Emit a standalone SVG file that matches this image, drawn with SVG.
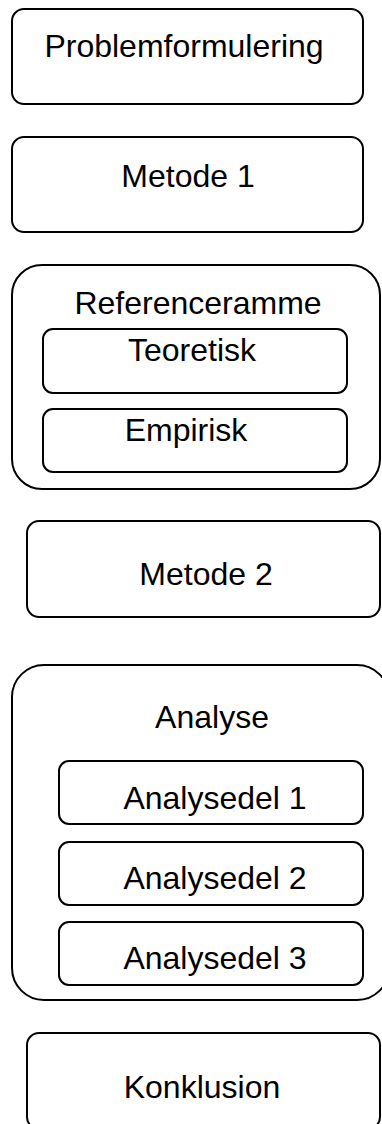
<svg xmlns="http://www.w3.org/2000/svg" width="382" height="1124" viewBox="0 0 382 1124">
<style>
.b{fill:#fff;stroke:#000;stroke-width:2}
.t{font-family:"Liberation Sans",Arial,sans-serif;font-size:32px;fill:#000;text-anchor:middle}
</style>
<rect width="382" height="1124" fill="#fff"/>
<g id="connectors"></g>
<g id="problemformulering"><rect class="b" x="12" y="9" width="351" height="95" rx="12"/><text class="t" x="184" y="57">Problemformulering</text></g>
<g id="metode1"><rect class="b" x="12" y="137" width="351" height="95" rx="12"/><text class="t" x="188" y="187">Metode 1</text></g>
<g id="referenceramme"><rect class="b" x="12" y="265" width="368" height="224" rx="30"/><text class="t" x="198" y="314">Referenceramme</text></g>
<g id="teoretisk"><rect class="b" x="43" y="329" width="304" height="64" rx="10"/><text class="t" x="192" y="361">Teoretisk</text></g>
<g id="empirisk"><rect class="b" x="43" y="409" width="304" height="63" rx="10"/><text class="t" x="186" y="441">Empirisk</text></g>
<g id="metode2"><rect class="b" x="27" y="521" width="353" height="96" rx="12"/><text class="t" x="206" y="585">Metode 2</text></g>
<g id="analyse"><rect class="b" x="12" y="665" width="377" height="335" rx="32"/><text class="t" x="212" y="728">Analyse</text></g>
<g id="analysedel1"><rect class="b" x="59" y="761" width="304" height="63" rx="10"/><text class="t" x="215" y="809">Analysedel 1</text></g>
<g id="analysedel2"><rect class="b" x="59" y="842" width="304" height="63" rx="10"/><text class="t" x="215" y="889">Analysedel 2</text></g>
<g id="analysedel3"><rect class="b" x="59" y="922" width="304" height="63" rx="10"/><text class="t" x="215" y="969">Analysedel 3</text></g>
<g id="konklusion"><rect class="b" x="27" y="1033" width="353" height="96" rx="12"/><text class="t" x="202" y="1098">Konklusion</text></g>
</svg>
